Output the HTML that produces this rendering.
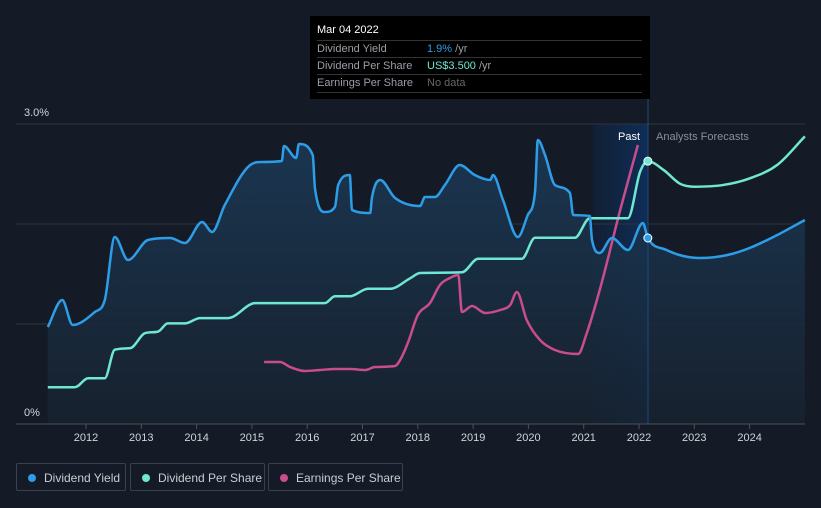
<!DOCTYPE html>
<html><head><meta charset="utf-8"><style>
body{margin:0;background:#151b26;font-family:"Liberation Sans",sans-serif;}
#wrap{position:relative;width:821px;height:508px;overflow:hidden;background:#151b26}
.tt{position:absolute;left:310px;top:16px;width:340px;height:83px;background:#000;color:#fff;font-size:11px}
.tt .r{position:absolute;left:7px;right:8px;height:17px;border-top:1px solid #333;line-height:17px;color:#9a9fa8}
.tt .v{position:absolute;left:110px}
.leg{position:absolute;top:463px;height:28px;border:1px solid #3a414d;border-radius:2px;color:#c8ccd2;font-size:12px;line-height:28px;padding-left:27px;box-sizing:border-box}
.leg i{position:absolute;left:11px;top:10px;width:8px;height:8px;border-radius:50%}
</style></head><body><div id="wrap">
<svg id="svg" width="821" height="508" style="position:absolute;left:0;top:0"></svg>
<div class="tt">
<div style="position:absolute;left:7px;top:8px;font-size:11px">Mar 04 2022</div>
<div class="r" style="top:24px">Dividend Yield<span class="v" style="color:#2d9de8">1.9% <span style="color:#9a9fa8">/yr</span></span></div>
<div class="r" style="top:41px">Dividend Per Share<span class="v" style="color:#6ee8d2">US$3.500 <span style="color:#9a9fa8">/yr</span></span></div>
<div class="r" style="top:58px;border-bottom:1px solid #333">Earnings Per Share<span class="v" style="color:#666">No data</span></div>
</div>
<div class="leg" style="left:16px;width:110px"><i style="background:#2d9de8"></i>Dividend Yield</div>
<div class="leg" style="left:130px;width:135px"><i style="background:#6ee8d2"></i>Dividend Per Share</div>
<div class="leg" style="left:268px;width:135px"><i style="background:#c94c8c"></i>Earnings Per Share</div>
</div>
<script>
const yieldYears=[2011.31,2011.57,2011.76,2012.16,2012.34,2012.52,2012.76,2013.12,2013.52,2013.79,2014.10,2014.28,2014.51,2014.97,2015.18,2015.54,2015.58,2015.80,2015.85,2016.10,2016.14,2016.32,2016.50,2016.56,2016.77,2016.81,2017.14,2017.17,2017.32,2017.59,2018.04,2018.13,2018.31,2018.49,2018.76,2019.03,2019.31,2019.36,2019.54,2019.81,2019.99,2020.12,2020.17,2020.30,2020.48,2020.75,2020.81,2021.11,2021.15,2021.29,2021.51,2021.80,2022.07,2022.16,2022.5,2022.8,2023.1,2023.6,2024.0,2024.5,2025.0];
const yieldValues=[0.97,1.24,0.99,1.12,1.24,1.87,1.64,1.84,1.86,1.81,2.02,1.92,2.19,2.59,2.62,2.63,2.78,2.66,2.80,2.69,2.36,2.12,2.17,2.39,2.49,2.14,2.11,2.26,2.44,2.26,2.18,2.27,2.27,2.39,2.59,2.49,2.44,2.49,2.24,1.87,2.09,2.32,2.84,2.69,2.39,2.31,2.09,2.08,1.84,1.71,1.86,1.74,2.01,1.86,1.74,1.68,1.66,1.69,1.76,1.89,2.04];
const dpsYears=[2011.31,2011.80,2012.04,2012.34,2012.52,2012.80,2013.07,2013.30,2013.48,2013.79,2014.06,2014.57,2015.06,2016.32,2016.50,2016.77,2017.10,2017.50,2017.86,2018.04,2018.80,2019.09,2019.88,2020.12,2020.84,2021.11,2021.80,2022.02,2022.16,2022.45,2022.74,2023.0,2023.5,2024.0,2024.5,2025.0];
const dpsValues=[0.49,0.49,0.61,0.61,0.99,1.01,1.21,1.23,1.34,1.34,1.41,1.41,1.61,1.61,1.70,1.70,1.80,1.80,1.94,2.01,2.02,2.20,2.20,2.48,2.48,2.74,2.74,3.36,3.50,3.38,3.20,3.16,3.18,3.27,3.45,3.83];
const epsYears=[2015.22,2015.51,2015.69,2015.96,2016.23,2016.50,2016.77,2017.05,2017.23,2017.59,2017.68,2017.82,2018.00,2018.22,2018.40,2018.58,2018.73,2018.80,2018.98,2019.22,2019.49,2019.67,2019.79,2019.97,2020.21,2020.48,2020.90,2021.05,2021.29,2021.66,2021.98];
const epsValues=[0.62,0.62,0.57,0.53,0.54,0.55,0.55,0.54,0.57,0.58,0.64,0.81,1.09,1.21,1.39,1.46,1.49,1.12,1.18,1.11,1.14,1.19,1.32,1.04,0.84,0.74,0.70,0.90,1.34,2.14,2.79];
const xTicks=[2012,2013,2014,2015,2016,2017,2018,2019,2020,2021,2022,2023,2024];
const NS="http://www.w3.org/2000/svg";
const svg=document.getElementById('svg');
const X=y=>86+(y-2012)*55.3;
const Y=v=>424-v*100;
const YD=v=>424-v*75.1;
const YE=v=>424-v*100;
function el(t,a){const e=document.createElementNS(NS,t);for(const k in a)e.setAttribute(k,a[k]);svg.appendChild(e);return e;}
function mono(xs,vs,f){
  const px=xs.map(X),py=vs.map(f),n=px.length;const d=[],m=[];
  for(let i=0;i<n-1;i++)d.push((py[i+1]-py[i])/(px[i+1]-px[i]));
  for(let i=0;i<n;i++){if(i==0)m.push(d[0]);else if(i==n-1)m.push(d[n-2]);else m.push(d[i-1]*d[i]<=0?0:(d[i-1]+d[i])/2);}
  for(let i=0;i<n-1;i++){if(d[i]==0){m[i]=0;m[i+1]=0;continue;}const a=m[i]/d[i],b=m[i+1]/d[i],s=a*a+b*b;if(s>9){const t=3/Math.sqrt(s);m[i]=t*a*d[i];m[i+1]=t*b*d[i];}}
  let p='M'+px[0].toFixed(1)+','+py[0].toFixed(1);
  for(let i=0;i<n-1;i++){const h=(px[i+1]-px[i])/3;p+=' C'+(px[i]+h).toFixed(1)+','+(py[i]+m[i]*h).toFixed(1)+' '+(px[i+1]-h).toFixed(1)+','+(py[i+1]-m[i+1]*h).toFixed(1)+' '+px[i+1].toFixed(1)+','+py[i+1].toFixed(1);}
  return p;}
const defs=el('defs',{});
defs.innerHTML='<linearGradient id="g" x1="0" y1="0" x2="0" y2="1"><stop offset="0" stop-color="#1b3a58"/><stop offset="1" stop-color="#17222f"/></linearGradient><linearGradient id="pb" x1="0" y1="0" x2="1" y2="0"><stop offset="0" stop-color="#0f2545" stop-opacity="0.5"/><stop offset="1" stop-color="#0f2e58"/></linearGradient>';
let e;
e=el('rect',{x:593,y:124,width:55,height:300,fill:'url(#pb)'});

[124,224,324].forEach(g=>{e=el('line',{x1:16,x2:805,y1:g,y2:g,stroke:'#2c3440','stroke-width':1});
});
const yp=mono(yieldYears,yieldValues,Y);
e=el('path',{d:yp+' L'+X(yieldYears[yieldYears.length-1])+',424 L'+X(yieldYears[0])+',424 Z',fill:'url(#g)',opacity:0.85});

e=el('line',{x1:16,x2:805,y1:424,y2:424,stroke:'#4a515c'});

e=el('line',{x1:648,x2:648,y1:99,y2:424,stroke:'#1e4a7a'});

e=el('path',{d:mono(epsYears,epsValues,YE),fill:'none',stroke:'#c94c8c','stroke-width':2.5,'stroke-linejoin':'round'});

e=el('path',{d:mono(dpsYears,dpsValues,YD),fill:'none',stroke:'#6ee8d2','stroke-width':2.5,'stroke-linejoin':'round'});

e=el('path',{d:yp,fill:'none',stroke:'#2d9de8','stroke-width':2.5,'stroke-linejoin':'round'});

e=el('circle',{cx:X(2022.16),cy:YD(3.5),r:4,fill:'#6ee8d2',stroke:'#fff','stroke-width':1});

e=el('circle',{cx:X(2022.16),cy:Y(1.86),r:4,fill:'#2d9de8',stroke:'#fff','stroke-width':1});

xTicks.forEach(t=>{e=el('line',{x1:X(t),x2:X(t),y1:424,y2:429,stroke:'#4a515c'});

e=el('text',{x:X(t),y:441,fill:'#d0d4da','font-size':11,'text-anchor':'middle'});e.textContent=t;
});
e=el('text',{x:24,y:116,fill:'#d0d4da','font-size':11});e.textContent='3.0%';

e=el('text',{x:24,y:416,fill:'#d0d4da','font-size':11});e.textContent='0%';

e=el('text',{x:640,y:140,fill:'#fff','font-size':11,'text-anchor':'end'});e.textContent='Past';

e=el('text',{x:656,y:140,fill:'#8a9099','font-size':11});e.textContent='Analysts Forecasts';

</script></body></html>
